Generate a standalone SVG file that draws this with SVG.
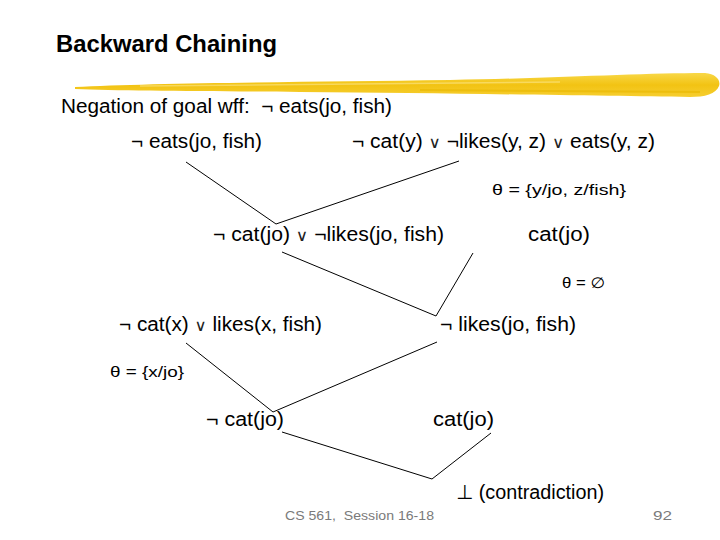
<svg xmlns="http://www.w3.org/2000/svg" width="720" height="540" viewBox="0 0 720 540">
<defs>
<linearGradient id="brush" x1="0" y1="0" x2="0" y2="1">
<stop offset="0" stop-color="#F8D848"/>
<stop offset="0.5" stop-color="#F2C313"/>
<stop offset="1" stop-color="#F6CE30"/>
</linearGradient>
<style>
.t{font-family:"Liberation Sans","DejaVu Sans",sans-serif;font-size:20px;fill:#000}
.th{font-family:"Liberation Sans","DejaVu Sans",sans-serif;font-size:15px;fill:#000}
.f{font-family:"Liberation Sans","DejaVu Sans",sans-serif;font-size:13px;fill:#7a7a7a}
.o{font-family:"DejaVu Sans",sans-serif;font-size:16px;font-weight:normal;fill:#222}
.c{stroke:#000;stroke-width:1;fill:none}
</style>
</defs>
<rect width="720" height="540" fill="#fff"/>
<text x="56" y="52" font-family="Liberation Sans, DejaVu Sans, sans-serif" font-size="23" font-weight="bold" textLength="221" lengthAdjust="spacingAndGlyphs">Backward Chaining</text>
<g id="brushstroke">
<path d="M75,87 C150,83 300,82 450,80 C560,78 640,73 705,73 C716,74 721,80 719,86 C716,94 705,97 690,97 C600,96 450,93 300,92 C200,91 120,91 75,89 Z" fill="url(#brush)"/>
<path d="M140,86 L560,82" stroke="#FBE27A" stroke-width="1.5" opacity="0.7"/>
<path d="M420,90 L700,92" stroke="#E9B800" stroke-width="2" opacity="0.6"/>
</g>
<text class="t" x="61" y="113" textLength="331" lengthAdjust="spacingAndGlyphs">Negation of goal wff:&#160; ¬ eats(jo, fish)</text>
<g id="connectors">
<line class="c" x1="186" y1="162" x2="276" y2="224"/>
<line class="c" x1="276" y1="224" x2="459" y2="161"/>
<line class="c" x1="282" y1="252" x2="436" y2="316"/>
<line class="c" x1="436" y1="316" x2="473" y2="253"/>
<line class="c" x1="186" y1="343" x2="273" y2="412"/>
<line class="c" x1="273" y1="412" x2="437" y2="342"/>
<line class="c" x1="282" y1="432" x2="432" y2="479"/>
<line class="c" x1="432" y1="479" x2="491" y2="433"/>
</g>
<g id="n1"><text class="t" x="131" y="148" textLength="131" lengthAdjust="spacingAndGlyphs">¬ eats(jo, fish)</text></g>
<g id="n2"><text class="t" x="352" y="148" textLength="303" lengthAdjust="spacingAndGlyphs">¬ cat(y) <tspan class="o">∨</tspan> ¬likes(y, z) <tspan class="o">∨</tspan> eats(y, z)</text></g>
<g id="s1"><text class="th" x="492" y="195" textLength="134" lengthAdjust="spacingAndGlyphs">θ = {y/jo, z/fish}</text></g>
<g id="n3"><text class="t" x="213" y="241" textLength="231" lengthAdjust="spacingAndGlyphs">¬ cat(jo) <tspan class="o">∨</tspan> ¬likes(jo, fish)</text></g>
<g id="n4"><text class="t" x="528" y="241" textLength="62" lengthAdjust="spacingAndGlyphs">cat(jo)</text></g>
<g id="s2"><text class="th" x="562" y="288" textLength="43" lengthAdjust="spacingAndGlyphs">θ = ∅</text></g>
<g id="n5"><text class="t" x="119" y="331" textLength="203" lengthAdjust="spacingAndGlyphs">¬ cat(x) <tspan class="o">∨</tspan> likes(x, fish)</text></g>
<g id="n6"><text class="t" x="440" y="331" textLength="136" lengthAdjust="spacingAndGlyphs">¬ likes(jo, fish)</text></g>
<g id="s3"><text class="th" x="110" y="377" textLength="74" lengthAdjust="spacingAndGlyphs">θ = {x/jo}</text></g>
<g id="n7"><text class="t" x="206" y="426" textLength="78" lengthAdjust="spacingAndGlyphs">¬ cat(jo)</text></g>
<g id="n8"><text class="t" x="433" y="426" textLength="61" lengthAdjust="spacingAndGlyphs">cat(jo)</text></g>
<g id="n9"><text class="t" x="456" y="499" textLength="148" lengthAdjust="spacingAndGlyphs">⊥ (contradiction)</text></g>
<text class="f" x="285" y="520" textLength="149" lengthAdjust="spacingAndGlyphs">CS 561,&#160; Session 16-18</text>
<text class="f" x="653" y="520" textLength="19" lengthAdjust="spacingAndGlyphs">92</text>
</svg>
